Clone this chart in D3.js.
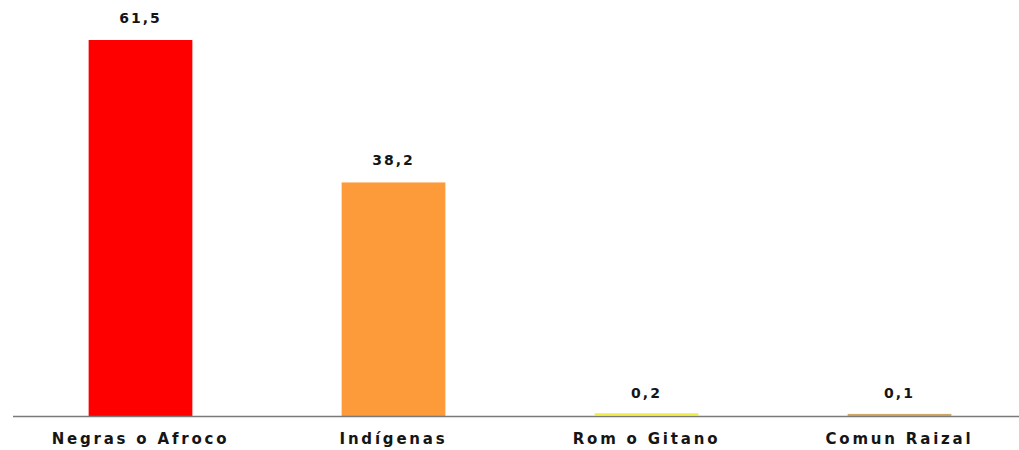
<!DOCTYPE html>
<html>
	<head>
		<meta charset="utf-8">
		<script src="https://d3js.org/d3.v7.min.js"></script>
		<style>
			body {
				margin: 0;
				background: #ffffff;
			}

			text {
				font-family: "DejaVu Sans", Verdana, sans-serif;
				font-weight: bold;
				fill: #151515;
			}
		</style>
	</head>
	<body>
		<div id="chart"></div>
		<script type="text/javascript">
			// data
			var categories = ["Negras o Afroco", "Indígenas", "Rom o Gitano", "Comun Raizal"];
			var values = [61.5, 38.2, 0.2, 0.1];
			var valueLabels = ["61,5", "38,2", "0,2", "0,1"];
			var colors = ["#ff0000", "#fd9a3a", "#eeee44", "#cfa868"];

			var width = 1019,
				height = 450,
				baseline = 416;

			var svg = d3.select("#chart")
				.append("svg")
				.attr("width", width)
				.attr("height", height);

			var x = d3.scaleBand()
				.domain(categories)
				.range([14, 1026])
				.paddingInner(0.59)
				.paddingOuter(0.295);

			var y = d3.scaleLinear()
				.domain([0, 61.5])
				.range([baseline, 40]);

			//bars
			svg.selectAll("rect.bar")
				.data(values)
				.enter()
				.append("rect")
				.attr("class", "bar")
				.attr("x", function(d, i){ return x(categories[i]); })
				.attr("y", function(d){ return y(d); })
				.attr("width", x.bandwidth())
				.attr("height", function(d){ return Math.max(2, baseline - y(d)); })
				.attr("transform", function(d){ return baseline - y(d) < 2 ? "translate(0,-1.5)" : null; })
				.style("fill", function(d, i){ return colors[i]; });

			//baseline
			svg.append("line")
				.attr("x1", 13)
				.attr("x2", width)
				.attr("y1", baseline + 0.5)
				.attr("y2", baseline + 0.5)
				.style("stroke", "#7a7a7a")
				.style("stroke-width", 1.5);

			//value labels
			svg.selectAll("text.value")
				.data(values)
				.enter()
				.append("text")
				.attr("class", "value")
				.attr("x", function(d, i){ return x(categories[i]) + x.bandwidth() / 2; })
				.attr("y", function(d){ return y(d) - 17; })
				.style("text-anchor", "middle")
				.style("font-size", "14px")
				.style("letter-spacing", "2px")
				.text(function(d, i){ return valueLabels[i]; });

			//category labels
			svg.selectAll("text.cat")
				.data(categories)
				.enter()
				.append("text")
				.attr("class", "cat")
				.attr("x", function(d){ return x(d) + x.bandwidth() / 2; })
				.attr("y", 444)
				.style("text-anchor", "middle")
				.style("font-size", "15px")
				.style("letter-spacing", "2.8px")
				.text(function(d){ return d; });
		</script>
	</body>
</html>
